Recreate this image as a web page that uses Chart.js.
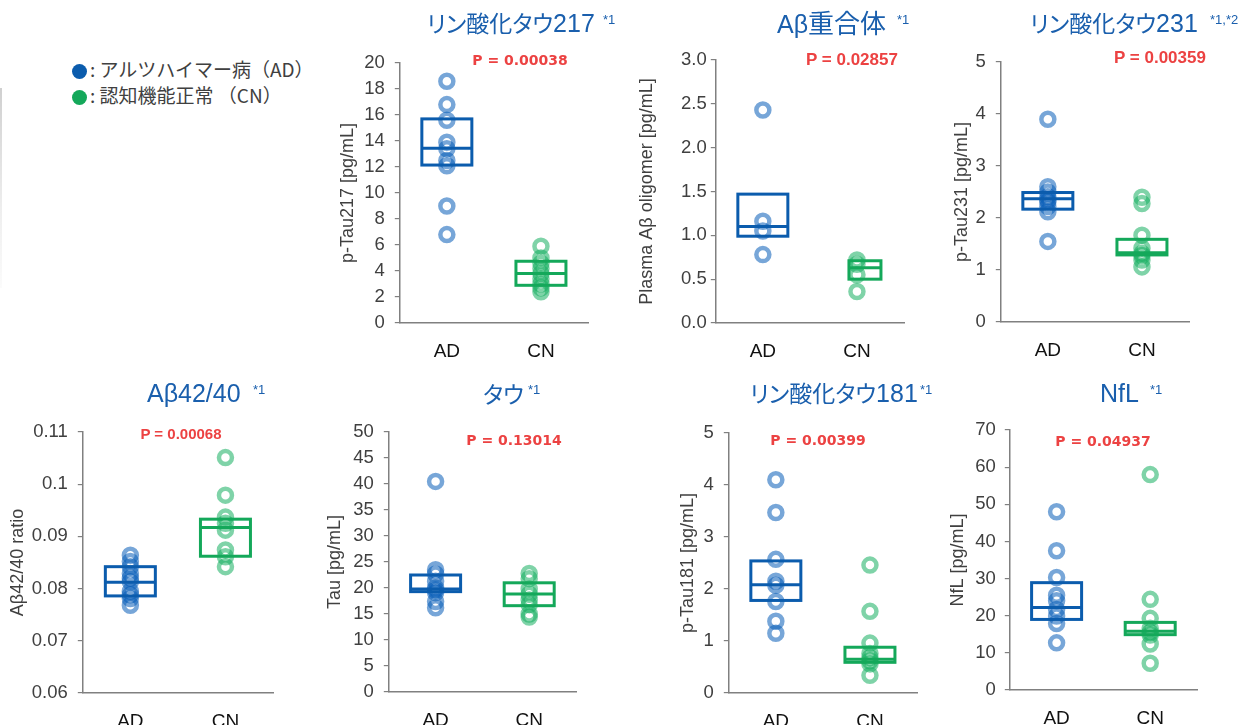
<!DOCTYPE html>
<html>
<head>
<meta charset="utf-8">
<script src="https://cdn.jsdelivr.net/npm/chart.js@4/dist/chart.umd.min.js"></script>
<style>
  body { margin: 0; width: 1248px; height: 725px; position: relative; overflow: hidden; background: #fff;
         font-family: "Liberation Sans", Arial, sans-serif; }
  canvas { position: absolute; }
  .ttl { position: absolute; color: #1a5fad; font-family: "Noto Sans CJK JP", sans-serif; font-size: 23px;
         font-feature-settings: "palt"; line-height: 1; white-space: nowrap; transform: translateY(-50%); }
  .ttl .lat { font-family: "Liberation Sans", Arial, sans-serif; font-size: 25px; }
  .sup { position: absolute; color: #1a5fad; font-family: "Liberation Sans", Arial, sans-serif; font-size: 13px;
         line-height: 1; white-space: nowrap; }
  .pv  { position: absolute; color: #ec4242; font-weight: bold; white-space: nowrap; line-height: 1;
         transform: translate(-50%, -50%); }
  .pv.dv { font-family: "DejaVu Sans", sans-serif; font-size: 14px; }
  .pv.ls { font-family: "Liberation Sans", Arial, sans-serif; font-size: 17px; }
  .lg  { position: absolute; left: 72px; font-family: "Noto Sans CJK JP", sans-serif; font-size: 19px; color: #404040;
         line-height: 1; white-space: nowrap; transform: translateY(-50%); }
  .lg i { display: inline-block; width: 15px; height: 15px; border-radius: 50%; vertical-align: -2px; margin-right: 3px; }
  .edge { position: absolute; left: 0; top: 88px; width: 2px; height: 200px;
          background: linear-gradient(to bottom, #d0d0d0, #eeeeee 60%, #fbfbfb); }
</style>
</head>
<body>
<div class="edge"></div>
<div class="lg" style="top:69px"><i style="background:#0b5cad"></i>: アルツハイマー病（AD）</div>
<div class="lg" style="top:95px"><i style="background:#14a85a"></i>: 認知機能正常 （CN）</div>
<div id="stage"></div>
<script>
// Groups on the x axis
const groups = ['AD', 'CN'];

// p-Tau217 [pg/mL]
const ptau217AD = [18.6, 16.8, 15.6, 13.9, 13.4, 12.5, 12.1, 9.0, 6.8];
const ptau217CN = [5.9, 5.0, 4.6, 4.2, 3.8, 3.4, 3.0, 2.7, 2.4];
const ptau217BoxAD = [12.15, 13.45, 15.7];   // Q1, median, Q3
const ptau217BoxCN = [2.9, 3.8, 4.75];
const ptau217Ticks = ['0', '2', '4', '6', '8', '10', '12', '14', '16', '18', '20'];

// Plasma Aβ oligomer [pg/mL]
const abOligoAD = [2.43, 1.16, 1.05, 0.78];
const abOligoCN = [0.72, 0.67, 0.55, 0.36];
const abOligoBoxAD = [0.99, 1.10, 1.47];
const abOligoBoxCN = [0.50, 0.63, 0.71];
const abOligoTicks = ['0.0', '0.5', '1.0', '1.5', '2.0', '2.5', '3.0'];

// p-Tau231 [pg/mL]
const ptau231AD = [3.9, 2.6, 2.5, 2.41, 2.35, 2.31, 2.22, 2.12, 1.55];
const ptau231CN = [2.4, 2.28, 1.67, 1.42, 1.32, 1.28, 1.19, 1.06];
const ptau231BoxAD = [2.17, 2.37, 2.49];
const ptau231BoxCN = [1.29, 1.33, 1.59];
const ptau231Ticks = ['0', '1', '2', '3', '4', '5'];

// Aβ42/40 ratio
const ab4240AD = [0.0864, 0.0852, 0.0842, 0.0829, 0.0820, 0.0813, 0.0795, 0.0788, 0.0781, 0.0768];
const ab4240CN = [0.1051, 0.0979, 0.0937, 0.0925, 0.0912, 0.0874, 0.0861, 0.0842];
const ab4240BoxAD = [0.0786, 0.0812, 0.0842];
const ab4240BoxCN = [0.0862, 0.0917, 0.0933];
const ab4240Ticks = ['0.06', '0.07', '0.08', '0.09', '0.1', '0.11'];

// Tau [pg/mL]
const tauAD = [40.5, 23.5, 22.7, 21.3, 20.0, 19.6, 19.1, 17.4, 16.2];
const tauCN = [22.8, 21.8, 19.8, 18.8, 17.7, 16.8, 15.0, 14.4];
const tauBoxAD = [19.3, 19.8, 22.5];
const tauBoxCN = [16.6, 18.85, 21.0];
const tauTicks = ['0', '5', '10', '15', '20', '25', '30', '35', '40', '45', '50'];

// p-Tau181 [pg/mL]
const ptau181AD = [4.1, 3.47, 2.57, 2.15, 2.07, 1.76, 1.38, 1.15];
const ptau181CN = [2.46, 1.57, 0.96, 0.76, 0.68, 0.62, 0.56, 0.34];
const ptau181BoxAD = [1.78, 2.08, 2.54];
const ptau181BoxCN = [0.59, 0.65, 0.88];
const ptau181Ticks = ['0', '1', '2', '3', '4', '5'];

// NfL [pg/mL]
const nflAD = [48.0, 37.5, 30.3, 25.5, 24.0, 21.7, 19.9, 17.9, 12.7];
const nflCN = [58.0, 24.4, 19.3, 16.6, 15.5, 14.8, 12.4, 7.2];
const nflBoxAD = [19.0, 22.2, 28.9];
const nflBoxCN = [14.9, 15.8, 18.2];
const nflTicks = ['0', '10', '20', '30', '40', '50', '60', '70'];

// Panel titles and p-values
const panelTitles = ['リン酸化タウ217', 'Aβ重合体', 'リン酸化タウ231', 'Aβ42/40', 'タウ', 'リン酸化タウ181', 'NfL'];
const panelNotes  = ['*1', '*1', '*1,*2', '*1', '*1', '*1', '*1'];
const pValues     = ['0.00038', '0.02857', '0.00359', '0.00068', '0.13014', '0.00399', '0.04937'];
const yTitles     = ['p-Tau217 [pg/mL]', 'Plasma Aβ oligomer [pg/mL]', 'p-Tau231 [pg/mL]', 'Aβ42/40 ratio',
                     'Tau [pg/mL]', 'p-Tau181 [pg/mL]', 'NfL [pg/mL]'];

const BLUE_BOX = '#0b5cad', GREEN_BOX = '#14a85a';
const BLUE_PT = 'rgba(8,93,184,0.55)', GREEN_PT = 'rgba(22,175,97,0.55)';

// Layout of each panel: plot-area edges, y-title offset, tick gap, title / p-value placement
const panels = [
  { ad: ptau217AD, cn: ptau217CN, bAD: ptau217BoxAD, bCN: ptau217BoxCN, ticks: ptau217Ticks,
    axisX: 400, yTop: 63, y0: 323, xEnd: 597, yOff: 52, tickPad: 10,
    ttl: [427, 23], sup: [603, 13], pv: [520, 60, 'dv'] },
  { ad: abOligoAD, cn: abOligoCN, bAD: abOligoBoxAD, bCN: abOligoBoxCN, ticks: abOligoTicks,
    axisX: 716, yTop: 60, y0: 323, xEnd: 913, yOff: 69, tickPad: 4, cnBox: { w: 32, shift: 8 },
    ttl: [777, 23, 26], sup: [897, 13], pv: [852, 59, 'ls'] },
  { ad: ptau231AD, cn: ptau231CN, bAD: ptau231BoxAD, bCN: ptau231BoxCN, ticks: ptau231Ticks,
    axisX: 1001, yTop: 62, y0: 322, xEnd: 1198, yOff: 39, tickPad: 10,
    ttl: [1030, 23], sup: [1210, 13], pv: [1160, 57, 'ls'] },
  { ad: ab4240AD, cn: ab4240CN, bAD: ab4240BoxAD, bCN: ab4240BoxCN, ticks: ab4240Ticks,
    axisX: 83, yTop: 432, y0: 693, xEnd: 282, yOff: 65, tickPad: 10,
    ttl: [147, 393], sup: [253, 383], pv: [181, 433, 'ls', 15] },
  { ad: tauAD, cn: tauCN, bAD: tauBoxAD, bCN: tauBoxCN, ticks: tauTicks,
    axisX: 389, yTop: 432, y0: 692, xEnd: 585, yOff: 54, tickPad: 10,
    ttl: [483, 393], sup: [528, 383], pv: [514, 440, 'dv'] },
  { ad: ptau181AD, cn: ptau181CN, bAD: ptau181BoxAD, bCN: ptau181BoxCN, ticks: ptau181Ticks,
    axisX: 729, yTop: 433, y0: 693, xEnd: 926, yOff: 41, tickPad: 10,
    ttl: [750, 393], sup: [920, 383], pv: [818, 440, 'dv'] },
  { ad: nflAD, cn: nflCN, bAD: nflBoxAD, bCN: nflBoxCN, ticks: nflTicks,
    axisX: 1010, yTop: 430, y0: 690, xEnd: 1206, yOff: 52, tickPad: 9,
    ttl: [1100, 393], sup: [1150, 383], pv: [1103, 441, 'dv'] }
];

// Draws the interquartile box and median line for each group
function boxPlugin(boxes) {
  return {
    id: 'iqrBoxes',
    afterDatasetsDraw(chart) {
      const { ctx, scales: { x, y } } = chart;
      boxes.forEach((b, i) => {
        const cx = x.getPixelForValue(i) + (b.shift || 0);
        const hw = b.w / 2;
        const [q1, med, q3] = b.v;
        const top = y.getPixelForValue(q3), bot = y.getPixelForValue(q1), m = y.getPixelForValue(med);
        ctx.save();
        ctx.strokeStyle = b.color;
        ctx.lineWidth = 3;
        ctx.strokeRect(cx - hw, top, 2 * hw, bot - top);
        ctx.beginPath();
        ctx.moveTo(cx - hw, m);
        ctx.lineTo(cx + hw, m);
        ctx.stroke();
        ctx.restore();
      });
    }
  };
}

// Splits a heading into Latin and CJK runs so each gets its own face
function headingHTML(text) {
  return text.replace(/[A-Za-z0-9β\/]+/g, m => '<span class="lat">' + m + '</span>');
}

const stage = document.getElementById('stage');
const PAD_TOP = 26, X_H = 45, Y_HALF = 10.8;

panels.forEach((p, k) => {
  const yW = p.yOff + Y_HALF;
  const left = p.axisX - yW;
  const top = p.yTop - PAD_TOP;
  const width = Math.round(p.xEnd - left + 2);
  const height = Math.round(p.y0 - p.yTop + PAD_TOP + X_H);

  const cv = document.createElement('canvas');
  cv.width = width; cv.height = height;
  cv.style.left = left + 'px'; cv.style.top = top + 'px';
  cv.style.width = width + 'px'; cv.style.height = height + 'px';
  stage.appendChild(cv);

  const tickVals = p.ticks.map(Number);
  const ptStyle = (c) => ({
    showLine: false, pointRadius: 6.5, pointBorderWidth: 4.5,
    pointBackgroundColor: 'rgba(0,0,0,0)', pointBorderColor: c
  });

  new Chart(cv, {
    type: 'line',
    data: {
      datasets: [
        Object.assign({ label: groups[0], data: p.ad.map(v => ({ x: groups[0], y: v })) }, ptStyle(BLUE_PT)),
        Object.assign({ label: groups[1], data: p.cn.map(v => ({ x: groups[1], y: v })) }, ptStyle(GREEN_PT))
      ]
    },
    options: {
      responsive: false,
      devicePixelRatio: 1,
      animation: false,
      events: [],
      layout: { padding: { top: PAD_TOP, right: 2, left: 0, bottom: 0 } },
      plugins: { legend: { display: false }, tooltip: { enabled: false } },
      scales: {
        x: {
          type: 'category', labels: groups, offset: true,
          grid: { display: false },
          border: { display: true, color: '#808080', width: 1.5 },
          ticks: { color: '#111', font: { family: 'Liberation Sans', size: 19 }, padding: 9 },
          afterFit(s) { s.height = X_H; }
        },
        y: {
          min: tickVals[0], max: tickVals[tickVals.length - 1],
          grid: { display: true, drawOnChartArea: false, drawTicks: true, tickLength: 5, color: '#808080', lineWidth: 1.2 },
          border: { display: true, color: '#808080', width: 1.5 },
          ticks: { color: '#404040', font: { family: 'Liberation Sans', size: 18.5 }, padding: p.tickPad,
                   autoSkip: false, callback: (v, i) => p.ticks[i] },
          afterBuildTicks(s) { s.ticks = tickVals.map(v => ({ value: v })); },
          title: { display: true, text: yTitles[k], color: '#404040', padding: { top: 0, bottom: 0 },
                   font: { family: 'Liberation Sans', size: 18, lineHeight: 1.2 } },
          afterFit(s) { s.width = yW; }
        }
      }
    },
    plugins: [boxPlugin([
      { v: p.bAD, color: BLUE_BOX, w: 50 },
      { v: p.bCN, color: GREEN_BOX, w: p.cnBox ? p.cnBox.w : 50, shift: p.cnBox ? p.cnBox.shift : 0 }
    ])]
  });

  // Panel heading with footnote mark
  const t = document.createElement('div');
  t.className = 'ttl';
  t.innerHTML = headingHTML(panelTitles[k]);
  t.style.left = p.ttl[0] + 'px'; t.style.top = p.ttl[1] + 'px';
  if (p.ttl[2]) t.style.fontSize = p.ttl[2] + 'px';
  document.body.appendChild(t);

  const s = document.createElement('div');
  s.className = 'sup';
  s.textContent = panelNotes[k];
  s.style.left = p.sup[0] + 'px'; s.style.top = p.sup[1] + 'px';
  document.body.appendChild(s);

  // p-value label
  const pv = document.createElement('div');
  pv.className = 'pv ' + p.pv[2];
  pv.textContent = 'P = ' + pValues[k];
  pv.style.left = p.pv[0] + 'px'; pv.style.top = p.pv[1] + 'px';
  if (p.pv[3]) pv.style.fontSize = p.pv[3] + 'px';
  document.body.appendChild(pv);
});
</script>
</body>
</html>
